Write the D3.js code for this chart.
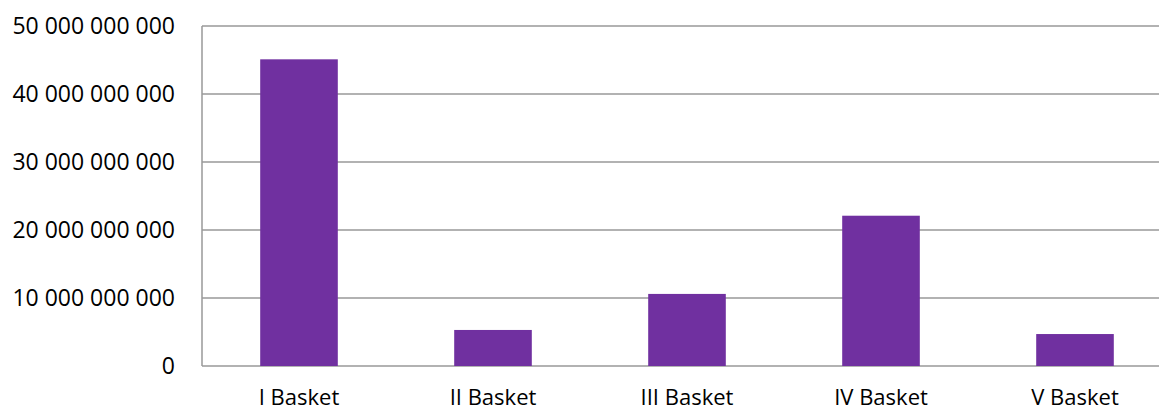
<!DOCTYPE html>
<html lang="en">
<head>
<meta charset="utf-8">
<title>Baskets</title>
<script src="https://d3js.org/d3.v7.min.js"></script>
<style>
  body { margin: 0; background: #fff; }
  text { font-family: "Open Sans", sans-serif; fill: #000; }
</style>
</head>
<body>
<chart></chart>
<script>
const categories = ["I Basket", "II Basket", "III Basket", "IV Basket", "V Basket"];
const values = [45100000000, 5300000000, 10600000000, 22100000000, 4700000000];
const tickValues = [0, 10000000000, 20000000000, 30000000000, 40000000000, 50000000000];

const width = 1159, height = 410;
const margin = { top: 26, right: -13, bottom: 44, left: 202 };

const svg = d3.select("chart")
  .append("svg")
  .attr("width", width)
  .attr("height", height);

const x = d3.scaleBand()
  .domain(categories)
  .range([margin.left, width - margin.right])
  .paddingInner(0.6)
  .paddingOuter(0.3);

const y = d3.scaleLinear()
  .domain([0, 50000000000])
  .range([height - margin.bottom, margin.top]);

const fmt = d => d3.format(",")(d).replace(/,/g, " ");

// gridlines
svg.append("g")
  .selectAll("line")
  .data(tickValues)
  .join("line")
  .attr("x1", margin.left)
  .attr("x2", width - margin.right)
  .attr("y1", d => y(d))
  .attr("y2", d => y(d))
  .attr("stroke", "#999")
  .attr("stroke-width", 1.5);

// left axis line
svg.append("line")
  .attr("x1", margin.left).attr("x2", margin.left)
  .attr("y1", y(50000000000)).attr("y2", y(0))
  .attr("stroke", "#999")
  .attr("stroke-width", 1.5);

// y labels
svg.append("g")
  .selectAll("text")
  .data(tickValues)
  .join("text")
  .attr("x", 175)
  .attr("y", d => y(d))
  .attr("dy", "0.35em")
  .attr("text-anchor", "end")
  .style("font-size", "23px")
  .text(fmt);

// bars
svg.append("g")
  .selectAll("rect")
  .data(values)
  .join("rect")
  .attr("x", (d, i) => x(categories[i]))
  .attr("width", x.bandwidth())
  .attr("y", d => y(d))
  .attr("height", d => y(0) - y(d))
  .attr("fill", "#7030A0");

// x labels
svg.append("g")
  .selectAll("text")
  .data(categories)
  .join("text")
  .attr("x", d => x(d) + x.bandwidth() / 2)
  .attr("y", 397)
  .attr("dy", "0.35em")
  .attr("text-anchor", "middle")
  .style("font-size", "22px")
  .text(d => d);
</script>
</body>
</html>
